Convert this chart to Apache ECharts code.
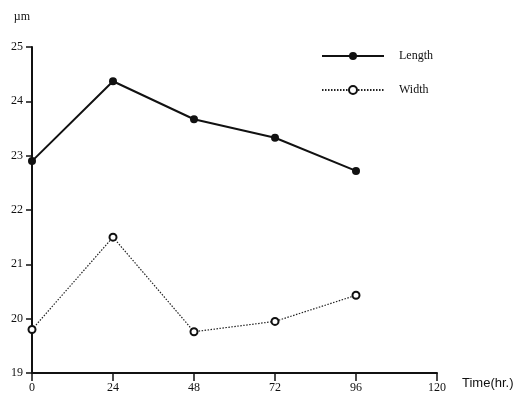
<!DOCTYPE html>
<html><head><meta charset="utf-8">
<script src="https://cdn.jsdelivr.net/npm/echarts@6/dist/echarts.min.js"></script>
<style>html,body{margin:0;padding:0;background:#fff}#c{width:529px;height:397px}</style>
</head><body><div id="c"></div>
<script>
const hours = [0, 24, 48, 72, 96];
const lengthVals = [22.9, 24.37, 23.67, 23.33, 22.72];
const widthVals = [19.8, 21.5, 19.76, 19.95, 20.43];
const seriesNames = ['Length', 'Width'];
const xTicks = [0, 24, 48, 72, 96, 120];
const yTicks = [19, 20, 21, 22, 23, 24, 25];

const serif = 'Liberation Serif';
const chart = echarts.init(document.getElementById('c'));
chart.setOption({
  animation: false,
  backgroundColor: '#fff',
  grid: {left: 32, right: 92, top: 47, bottom: 24, containLabel: false},
  legend: {
    orient: 'vertical', left: 316, top: 45, itemGap: 22, itemWidth: 62, itemHeight: 10,
    textStyle: {fontFamily: serif, fontSize: 12, color: '#111', padding: [0,0,0,10]},
    data: seriesNames
  },
  xAxis: {
    type: 'value', min: xTicks[0], max: xTicks[xTicks.length-1], interval: 24,
    name: 'Time(hr.)', nameLocation: 'end', nameGap: 25,
    nameTextStyle: {fontFamily: 'Liberation Sans', fontSize: 13, color: '#111', verticalAlign: 'top', padding: [4,0,0,0]},
    axisLine: {lineStyle: {color: '#111', width: 2}},
    axisTick: {show: true, length: 8, lineStyle: {color: '#111', width: 1.5}},
    axisLabel: {fontFamily: serif, fontSize: 12, color: '#111', margin: 9},
    splitLine: {show: false}
  },
  yAxis: {
    type: 'value', min: yTicks[0], max: yTicks[yTicks.length-1], interval: 1,
    name: 'µm', nameLocation: 'end', nameGap: 24,
    nameTextStyle: {fontFamily: serif, fontSize: 12, color: '#111', align: 'right', padding: [0,2,0,0]},
    axisLine: {lineStyle: {color: '#111', width: 2}},
    axisTick: {show: true, length: 6, lineStyle: {color: '#111', width: 1.5}},
    axisLabel: {fontFamily: serif, fontSize: 12, color: '#111', margin: 9},
    splitLine: {show: false}
  },
  series: [
    {
      name: seriesNames[0], type: 'line',
      data: hours.map((h,i)=>[h, lengthVals[i]]),
      symbol: 'circle', symbolSize: 8,
      lineStyle: {color: '#111', width: 2},
      itemStyle: {color: '#111'}
    },
    {
      name: seriesNames[1], type: 'line',
      data: hours.map((h,i)=>[h, widthVals[i]]),
      symbol: 'emptyCircle', symbolSize: 7,
      lineStyle: {color: '#222', width: 1.2, type: [1.5, 1.5]},
      itemStyle: {color: '#111', borderColor: '#111', borderWidth: 1.8}
    }
  ]
});
</script></body></html>
